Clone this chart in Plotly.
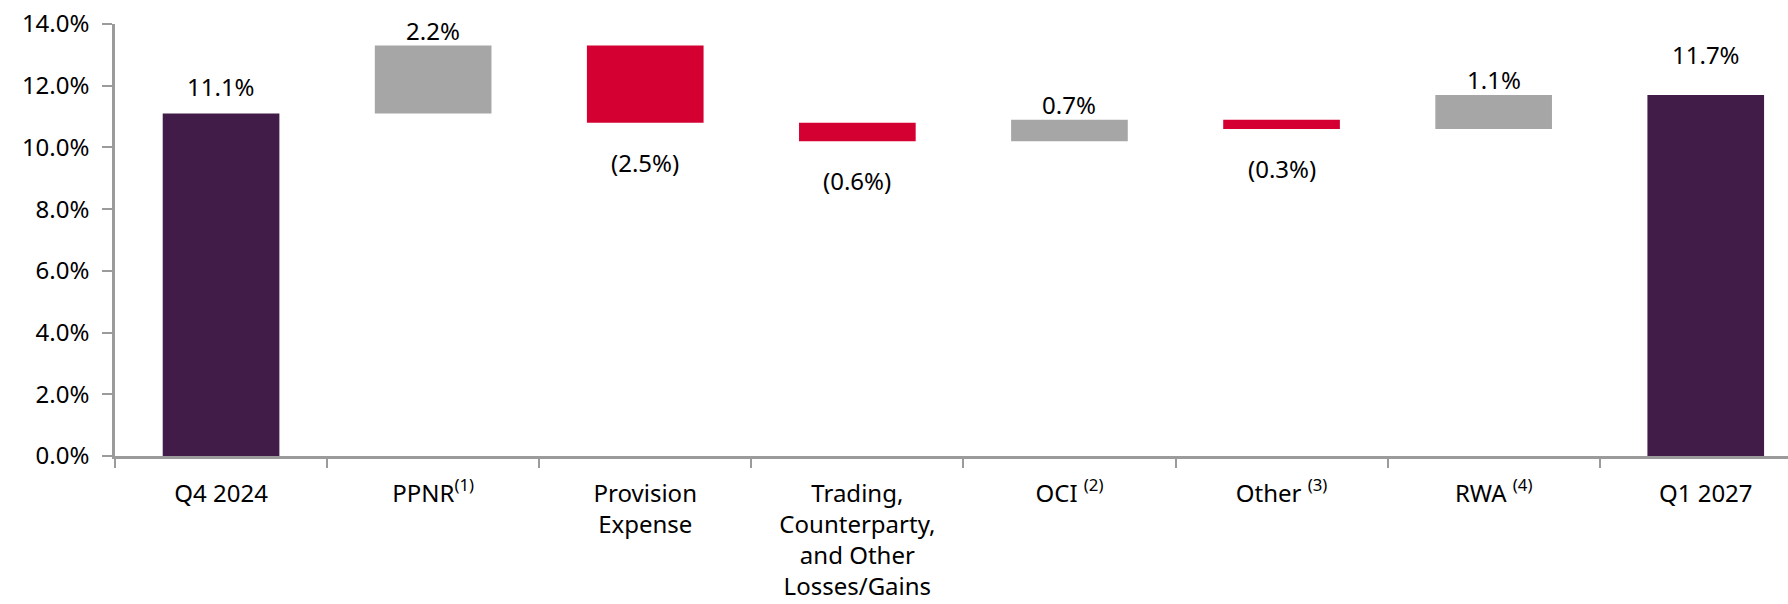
import plotly.graph_objects as go

# ---- data ----
categories = [
    "Q4 2024",
    "PPNR<sup>(1)</sup>",
    "Provision<br>Expense",
    "Trading,<br>Counterparty,<br>and Other<br>Losses/Gains",
    "OCI <sup>(2)</sup>",
    "Other <sup>(3)</sup>",
    "RWA <sup>(4)</sup>",
    "Q1 2027",
]
values = [11.1, 2.2, -2.5, -0.6, 0.7, -0.3, 1.1, 11.7]
measures = ["absolute", "relative", "relative", "relative", "relative", "relative", "relative", "total"]
value_labels = ["11.1%", "2.2%", "(2.5%)", "(0.6%)", "0.7%", "(0.3%)", "1.1%", "11.7%"]
y_ticks = [0, 2, 4, 6, 8, 10, 12, 14]
y_tick_labels = ["0.0%", "2.0%", "4.0%", "6.0%", "8.0%", "10.0%", "12.0%", "14.0%"]

# ---- styles ----
PURPLE = "#421C48"
RED = "#D50032"
GREY = "#A6A6A6"
AXIS = "#9B9B9B"
FONT = "Noto Sans"
FS = 24
LABEL_SHIFT = {"absolute": 8, "total": 22, "up": -3, "down": -21}

fig = go.Figure(go.Waterfall(
    x=categories,
    y=values,
    measure=measures,
    increasing=dict(marker=dict(color=GREY)),
    decreasing=dict(marker=dict(color=RED)),
    totals=dict(marker=dict(color=PURPLE)),
    connector=dict(visible=False),
    hoverinfo="skip",
))

# label positions derived from running totals
level = 0.0
for cat, v, m, lab in zip(categories, values, measures, value_labels):
    if m == "absolute":
        start, end = 0.0, v
        level = v
    elif m == "total":
        start, end = 0.0, level
    else:
        start, end = level, level + v
        level = end
    if m in ("absolute", "total"):
        anchor, shift = "bottom", LABEL_SHIFT[m]
    elif end >= start:
        anchor, shift = "bottom", LABEL_SHIFT["up"]
    else:
        anchor, shift = "top", LABEL_SHIFT["down"]
    fig.add_annotation(x=cat, y=end, text=lab, showarrow=False, yanchor=anchor,
                       yshift=shift, font=dict(family=FONT, size=FS, color="#000000"))

W, H = 1788, 604
left, right_edge, top, bottom = 115, 1788, 24, 456
cat_w = 212.1
xmax = -0.5 + (right_edge - left) / cat_w

fig.update_layout(
    width=W, height=H, autosize=False,
    margin=dict(l=left, r=W - right_edge, t=top, b=H - bottom, pad=0),
    plot_bgcolor="white", paper_bgcolor="white",
    waterfallgap=0.45,
    showlegend=False,
    font=dict(family=FONT, size=FS, color="#000000"),
    xaxis=dict(
        type="category", range=[-0.5, xmax],
        showline=True, linecolor=AXIS, linewidth=2.5,
        ticks="outside", tickson="boundaries", ticklen=9, tickwidth=2, tickcolor=AXIS,
        ticklabelstandoff=14,
        showgrid=False, zeroline=False,
        tickfont=dict(family=FONT, size=FS, color="#000000"),
    ),
    yaxis=dict(
        range=[0, 14], tickmode="array", tickvals=y_ticks, ticktext=y_tick_labels,
        showline=True, linecolor=AXIS, linewidth=2.5,
        ticks="outside", ticklen=10, tickwidth=2, tickcolor=AXIS,
        ticklabelstandoff=8,
        showgrid=False, zeroline=False,
        tickfont=dict(family=FONT, size=FS, color="#000000"),
    ),
)

fig.write_html(
    "out.html",
    config={"displayModeBar": False},
    post_script="document.body.style.margin='0';document.body.style.overflow='hidden';",
)
